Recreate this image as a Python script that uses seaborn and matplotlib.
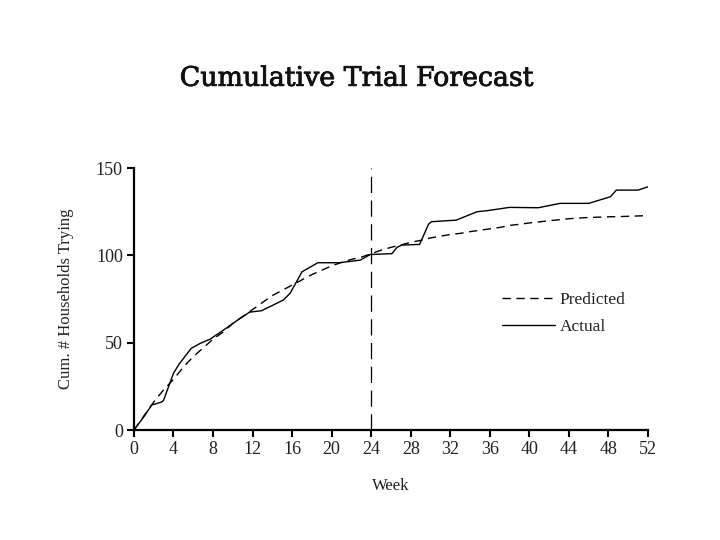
import matplotlib
matplotlib.use("Agg")
import matplotlib.pyplot as plt
import matplotlib.patheffects as pe
import seaborn as sns
import pandas as pd

pred_weeks = list(range(0, 53))
pred_vals = [0, 8, 16, 23, 29, 36, 42, 47, 52, 56, 61, 65, 69, 73, 77, 80, 83, 86,
             89, 91.5, 94, 96, 97.7, 99, 101, 103, 104.6, 106, 107.5, 108.6, 110,
             111, 112, 112.6, 113.6, 114.4, 115.2, 116, 117.2, 117.8, 118.6, 119.2,
             119.9, 120.4, 121, 121.4, 121.7, 121.9, 122.1, 122.2, 122.4, 122.6, 122.8]

act_weeks = [0, 1, 1.8, 2.8, 3.0, 4.0, 4.6, 5.8, 6.7, 7.7, 9, 10.5, 11.7, 12.9, 14.1,
             15.1, 15.8, 17.0, 18.6, 20.8, 22.9, 23.9, 26.1, 26.6, 27.1, 28.9, 29.8,
             30.1, 32.6, 34.7, 35.7, 38.0, 40.9, 43.1, 46.0, 48.2, 48.8, 51.0, 52]
act_vals = [0, 7.5, 14.3, 16, 17, 32.5, 38, 46.8, 49.6, 52, 57, 63, 67.5, 68.3, 71.6,
            74.4, 78.3, 90.6, 95.8, 95.8, 97.3, 100.5, 101, 104.6, 105.9, 106.3, 117.9,
            119.3, 120.2, 125, 125.6, 127.5, 127.3, 129.8, 129.8, 133.6, 137.4, 137.4, 139.3]

series_names = ["Predicted", "Actual"]
x_ticks = list(range(0, 53, 4))
y_ticks = [0, 50, 100, 150]
launch_week = 24

df = pd.concat([
    pd.DataFrame({"Week": pred_weeks, "Value": pred_vals, "Series": series_names[0]}),
    pd.DataFrame({"Week": act_weeks, "Value": act_vals, "Series": series_names[1]}),
], ignore_index=True)

sns.set_style("white")
plt.rcParams["font.family"] = ["Liberation Serif", "DejaVu Serif"]

fig = plt.figure(figsize=(7.2, 5.4), dpi=100)
ax = fig.add_axes([0.186, 0.2037, 0.714, 0.485])

sns.lineplot(data=df, x="Week", y="Value", hue="Series", style="Series",
             hue_order=series_names, style_order=series_names,
             palette={"Predicted": "black", "Actual": "black"},
             dashes={"Predicted": (6, 4), "Actual": ""},
             estimator=None, sort=True, linewidth=1.0, ax=ax)

ax.axvline(launch_week, color="black", linewidth=0.9, dashes=(13, 6))

ax.set_xlim(0, 52)
ax.set_ylim(0, 150)
ax.set_xticks(x_ticks)
ax.set_yticks(y_ticks)
ax.tick_params(axis="both", direction="out", length=5, width=1.5, labelsize=13,
               colors="black", left=True, bottom=True, pad=3)
for lab in ax.get_xticklabels() + ax.get_yticklabels():
    lab.set_color("#222222")
for s in ["top", "right"]:
    ax.spines[s].set_visible(False)
for s in ["left", "bottom"]:
    ax.spines[s].set_linewidth(1.6)
    ax.spines[s].set_color("black")

ax.set_xlabel("Week", fontsize=12, labelpad=14, color="#222222")
ax.set_ylabel("Cum. # Households Trying", fontsize=12, labelpad=16, color="#222222")

leg = ax.legend(loc="upper left", bbox_to_anchor=(0.70, 0.56), frameon=False,
                fontsize=12.5, handlelength=3.0, labelspacing=0.62, borderpad=0,
                handletextpad=0.3)
for t in leg.get_texts():
    t.set_color("#222222")

fig.text(0.495, 0.855, "Cumulative Trial Forecast", ha="center", va="center",
         fontsize=19.3, color="#111111", family=["DejaVu Serif"],
         path_effects=[pe.withStroke(linewidth=0.6, foreground="#111111")])

fig.savefig("out.png", dpi=100)
